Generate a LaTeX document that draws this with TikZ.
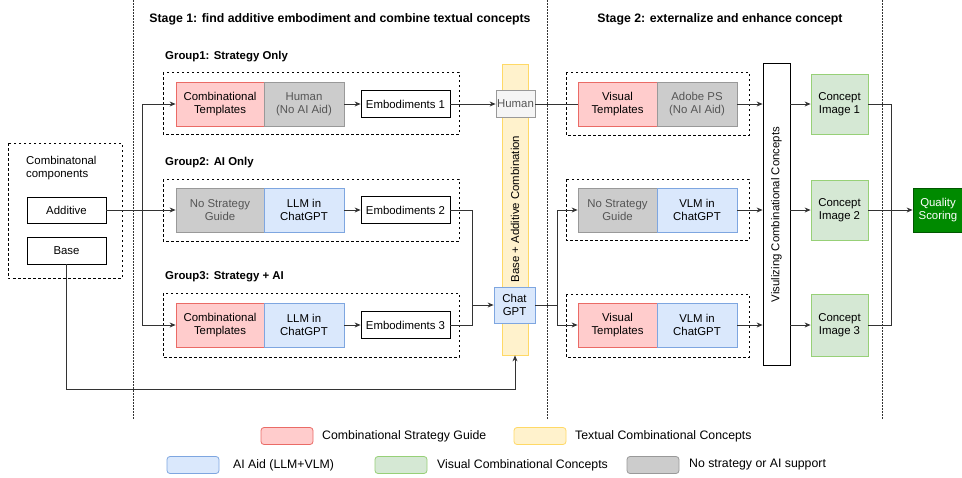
\documentclass[tikz,border=0pt]{standalone}
\usepackage{fontspec}
\setmainfont{Liberation Sans}
\usetikzlibrary{arrows.meta,calc}
\definecolor{redF}{HTML}{FFCCCC}\definecolor{redD}{HTML}{EA6B66}
\definecolor{blueF}{HTML}{DAE8FC}\definecolor{blueD}{HTML}{7EA6E0}
\definecolor{greenF}{HTML}{D5E8D4}\definecolor{greenD}{HTML}{97D077}
\definecolor{yelF}{HTML}{FFF2CC}\definecolor{yelD}{HTML}{FFD966}
\definecolor{grayF}{HTML}{CCCCCC}\definecolor{grayD}{HTML}{999999}
\definecolor{grayT}{HTML}{555555}
\definecolor{ltF}{HTML}{F5F5F5}
\definecolor{qF}{HTML}{008A00}\definecolor{qD}{HTML}{005700}
\definecolor{lineC}{HTML}{333333}
\newcommand{\bxfont}{\fontsize{11.4}{13.4}\selectfont}
\tikzset{
  x=1pt,y=-1pt,
  bx/.style={draw, inner sep=0pt, align=center, font=\bxfont, line width=0.8pt},
  wbox/.style={bx, draw=black, fill=white},
  rbox/.style={bx, draw=redD, fill=redF},
  bbox/.style={bx, draw=blueD, fill=blueF},
  gbox/.style={bx, draw=grayD, fill=grayF, text=grayT},
  cbox/.style={bx, draw=greenD, fill=greenF},
  grp/.style={draw=black, line width=0.8pt, dash pattern=on 2.5pt off 2.5pt},
  divider/.style={draw=black!80, line width=0.8pt, dash pattern=on 1.5pt off 1.5pt},
  conn/.style={draw=lineC, line width=0.8pt},
  arr/.style={conn, -{Stealth[length=6pt,width=5pt]}},
  ttl/.style={font=\fontsize{12.3}{14}\selectfont\bfseries, inner sep=0pt},
  glab/.style={font=\fontsize{11.4}{13}\selectfont\bfseries, anchor=west, inner sep=0pt},
  leg/.style={draw, rounded corners=3pt, minimum width=52pt, minimum height=17pt, inner sep=0pt, line width=0.8pt},
  legt/.style={font=\fontsize{12.3}{14}\selectfont, anchor=west, inner sep=0pt},
}
\begin{document}
\begin{tikzpicture}
\useasboundingbox (0,0) rectangle (962,477);
\begin{scope}
\clip (0,0) rectangle (962,477);
% dividers
\draw[divider] (133,0) -- (133,420);
\draw[divider] (547,0) -- (547,420);
\draw[divider] (882,0) -- (882,420);

% titles
\node[ttl] (s1) at (340,19) {Stage 1: find additive embodiment and combine textual concepts};
\node[ttl] (s2) at (720,19) {Stage 2: externalize and enhance concept};

% left components
\draw[grp] (8,143) rectangle (122,278);
\node[font=\bxfont, align=left, anchor=west, inner sep=0pt] (comp) at (26,168) {Combinatonal\\components};
\node[wbox, minimum width=79pt, minimum height=26pt] (add) at (66.5,210) {Additive};
\node[wbox, minimum width=79pt, minimum height=27pt] (base) at (66.5,250.5) {Base};

% group labels and boxes
\node[glab] (gl1) at (165,57) {Group1: Strategy Only};
\node[glab] (gl2) at (165,163) {Group2: AI Only};
\node[glab] (gl3) at (165,277) {Group3: Strategy + AI};
\draw[grp] (163,72) rectangle (459,134);
\draw[grp] (163,179) rectangle (459,241);
\draw[grp] (163,293) rectangle (459,357);

\node[rbox, minimum width=88pt, minimum height=44pt] (g1a) at (220,104) {Combinational\\Templates};
\node[gbox, minimum width=80pt, minimum height=44pt] (g1b) at (304,104) {Human\\(No AI Aid)};
\node[gbox, minimum width=88pt, minimum height=44pt] (g2a) at (220,210) {No Strategy\\Guide};
\node[bbox, minimum width=80pt, minimum height=44pt] (g2b) at (304,210) {LLM in\\ChatGPT};
\node[rbox, minimum width=88pt, minimum height=44pt] (g3a) at (220,325) {Combinational\\Templates};
\node[bbox, minimum width=80pt, minimum height=44pt] (g3b) at (304,325) {LLM in\\ChatGPT};

\node[wbox, minimum width=89pt, minimum height=27pt] (e1) at (405.5,104) {Embodiments 1};
\node[wbox, minimum width=89pt, minimum height=27pt] (e2) at (405.5,210) {Embodiments 2};
\node[wbox, minimum width=89pt, minimum height=27pt] (e3) at (405.5,325) {Embodiments 3};

% yellow bar
\node[bx, draw=yelD, fill=yelF, minimum width=26pt, minimum height=291pt] (ybar) at (515,209.5) {};
\node[font=\bxfont, rotate=90, inner sep=0pt] (ybt) at (515,209) {Base + Additive Combination};
\node[bx, draw=grayD, fill=ltF, text=grayT, minimum width=39pt, minimum height=27pt] (hum) at (515.5,104) {Human};
\node[bbox, minimum width=41pt, minimum height=36pt] (chat) at (514.5,305) {Chat\\GPT};

% stage 2 groups
\draw[grp] (566,72) rectangle (749,135);
\draw[grp] (566,179) rectangle (749,240);
\draw[grp] (566,294) rectangle (749,357);
\node[rbox, minimum width=79pt, minimum height=44pt] (v1a) at (617.5,104) {Visual\\Templates};
\node[gbox, minimum width=80pt, minimum height=44pt] (v1b) at (697,104) {Adobe PS\\(No AI Aid)};
\node[gbox, minimum width=79pt, minimum height=44pt] (v2a) at (617.5,210) {No Strategy\\Guide};
\node[bbox, minimum width=80pt, minimum height=44pt] (v2b) at (697,210) {VLM in\\ChatGPT};
\node[rbox, minimum width=79pt, minimum height=44pt] (v3a) at (617.5,325) {Visual\\Templates};
\node[bbox, minimum width=80pt, minimum height=44pt] (v3b) at (697,325) {VLM in\\ChatGPT};

\node[wbox, minimum width=27pt, minimum height=302pt] (vbar) at (776.5,214) {};
\node[font=\bxfont, rotate=90, inner sep=0pt] (vbt) at (776.5,214.5) {Visulizing Combinational Concepts};

\node[cbox, minimum width=57pt, minimum height=60pt] (ci1) at (839.5,104) {Concept\\Image 1};
\node[cbox, minimum width=57pt, minimum height=60pt] (ci2) at (839.5,210) {Concept\\Image 2};
\node[cbox, minimum width=57pt, minimum height=62pt] (ci3) at (839.5,325) {Concept\\Image 3};
\node[bx, draw=qD, fill=qF, text=white, minimum width=50pt, minimum height=44pt] (q) at (938,210) {Quality\\Scoring};

% connectors stage 1
\coordinate (t1) at (142,104);
\coordinate (t3) at (142,325);
\draw[arr] (add.east) -- (g2a.west);
\draw[conn] (t1) -- (t3);
\draw[arr] (t1) -- (g1a.west);
\draw[arr] (t3) -- (g3a.west);
\coordinate (bc) at (66.5,389);
\draw[arr] (base.south) -- (bc) -| (ybar.south);
\draw[arr] (g1b.east) -- (e1.west);
\draw[arr] (g2b.east) -- (e2.west);
\draw[arr] (g3b.east) -- (e3.west);
\draw[arr] (e1.east) -- (hum.west);
\coordinate (j2) at (472,210);
\coordinate (j3) at (472,325);
\coordinate (jc) at (472,305);
\draw[conn] (e2.east) -- (j2) -- (j3) -- (e3.east);
\draw[arr] (jc) -- (chat.west);

% connectors stage 2
\draw[conn] (hum.east) -- (v1a.west);
\coordinate (k) at (557,305);
\coordinate (k2) at (557,210);
\coordinate (k3) at (557,325);
\draw[conn] (chat.east) -- (k);
\draw[conn] (k2) -- (k3);
\draw[arr] (k2) -- (v2a.west);
\draw[arr] (k3) -- (v3a.west);
\draw[arr] (v1b.east) -- (v1b.east -| vbar.west);
\draw[arr] (v2b.east) -- (v2b.east -| vbar.west);
\draw[arr] (v3b.east) -- (v3b.east -| vbar.west);
\draw[arr] (ci1.west -| vbar.east) -- (ci1.west);
\draw[arr] (ci2.west -| vbar.east) -- (ci2.west);
\draw[arr] (ci3.west -| vbar.east) -- (ci3.west);
\coordinate (m1) at (891,104);
\coordinate (m3) at (891,325);
\draw[conn] (ci1.east) -- (m1) -- (m3) -- (ci3.east);
\draw[arr] (ci2.east) -- (q.west);

% legend
\node[leg, draw=redD, fill=redF] (lr) at (287,436) {};
\node[legt] (lrt) at (322,436) {Combinational Strategy Guide};
\node[leg, draw=yelD, fill=yelF] (ly) at (540,436) {};
\node[legt] (lyt) at (575,436) {Textual Combinational Concepts};
\node[leg, draw=blueD, fill=blueF] (lb) at (193,465) {};
\node[legt] (lbt) at (233,465) {AI Aid (LLM+VLM)};
\node[leg, draw=greenD, fill=greenF] (lg) at (401,465) {};
\node[legt] (lgt) at (437,465) {Visual Combinational Concepts};
\node[leg, draw=grayD, fill=grayF] (lgr) at (653,465) {};
\node[legt] (lgrt) at (689,465) {No strategy or AI support};
\end{scope}
\end{tikzpicture}
\end{document}
